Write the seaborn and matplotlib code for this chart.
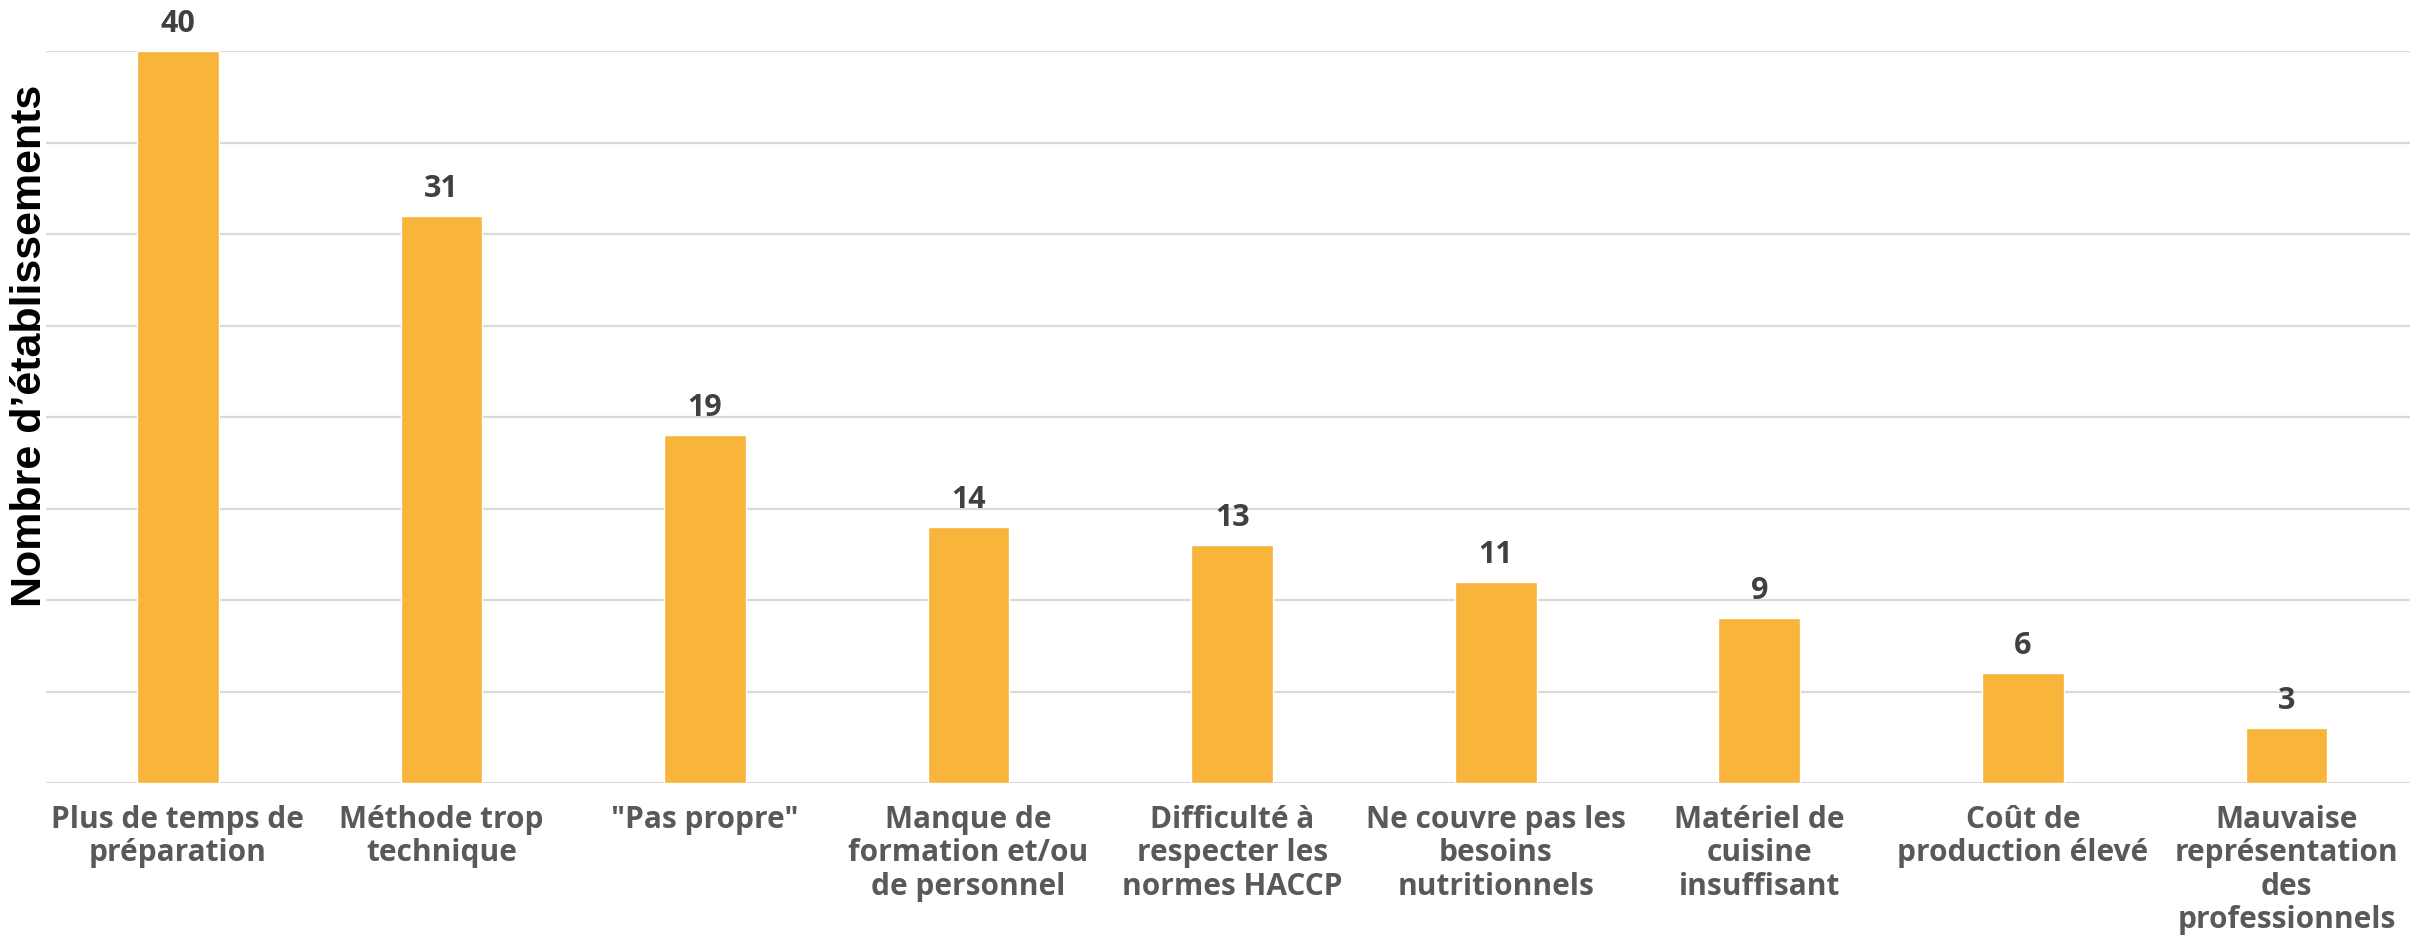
import matplotlib
matplotlib.use("Agg")
import matplotlib.pyplot as plt
import seaborn as sns
import pandas as pd

categories = [
    "Plus de temps de\npréparation",
    "Méthode trop\ntechnique",
    "\"Pas propre\"",
    "Manque de\nformation et/ou\nde personnel",
    "Difficulté à\nrespecter les\nnormes HACCP",
    "Ne couvre pas les\nbesoins\nnutritionnels",
    "Matériel de\ncuisine\ninsuffisant",
    "Coût de\nproduction élevé",
    "Mauvaise\nreprésentation\ndes\nprofessionnels",
]
values = [40, 31, 19, 14, 13, 11, 9, 6, 3]
y_ticks = [0, 5, 10, 15, 20, 25, 30, 35, 40]
y_label = "Nombre d\u2019établissements"

bar_color = "#F8B43B"
value_color = "#404040"
tick_color = "#595959"
grid_color = "#D9D9D9"

sns.set_theme(style="white")
plt.rcParams["font.family"] = ["Open Sans", "DejaVu Sans"]

df = pd.DataFrame({"cat": categories, "val": values})

W, H = 2410, 936
fig = plt.figure(figsize=(W / 100, H / 100), dpi=100)
ax = fig.add_axes([46 / W, 1 - 783 / H, (W - 46) / W, (783 - 51) / H])

sns.barplot(data=df, x="cat", y="val", color=bar_color, width=0.31,
            saturation=1, ax=ax, zorder=3)

ax.set_ylim(0, 40)
ax.set_xlim(-0.5, 8.469)
ax.set_yticks(y_ticks)
ax.set_yticklabels([])
ax.tick_params(axis="y", length=0)
ax.grid(axis="y", color=grid_color, linewidth=1.6, zorder=0)
ax.grid(axis="x", visible=False)
for s in ax.spines.values():
    s.set_visible(False)

ax.set_xlabel("")
ax.set_ylabel("")
ax.tick_params(axis="x", length=0, pad=16)
for lbl in ax.get_xticklabels():
    lbl.set_fontsize(21.5)
    lbl.set_fontweight("bold")
    lbl.set_color(tick_color)
    lbl.set_linespacing(1.14)
    lbl.set_verticalalignment("top")
    lbl.set_family(["Open Sans", "DejaVu Sans"])

for patch, v in zip(ax.patches, values):
    cx = patch.get_x() + patch.get_width() / 2
    ax.annotate(f"{v}", xy=(cx, patch.get_height()), xytext=(0, 13.7),
                textcoords="offset points", ha="center", va="baseline",
                fontsize=22, fontweight="bold", color=value_color,
                family=["Open Sans", "DejaVu Sans"], clip_on=False)

fig.text(30 / W, 1 - 346 / H, y_label, rotation=90, ha="center", va="center",
         fontsize=31, fontweight="bold", color="black",
         family=["Liberation Sans", "DejaVu Sans"])

fig.savefig("out.png", dpi=100, facecolor="white")
